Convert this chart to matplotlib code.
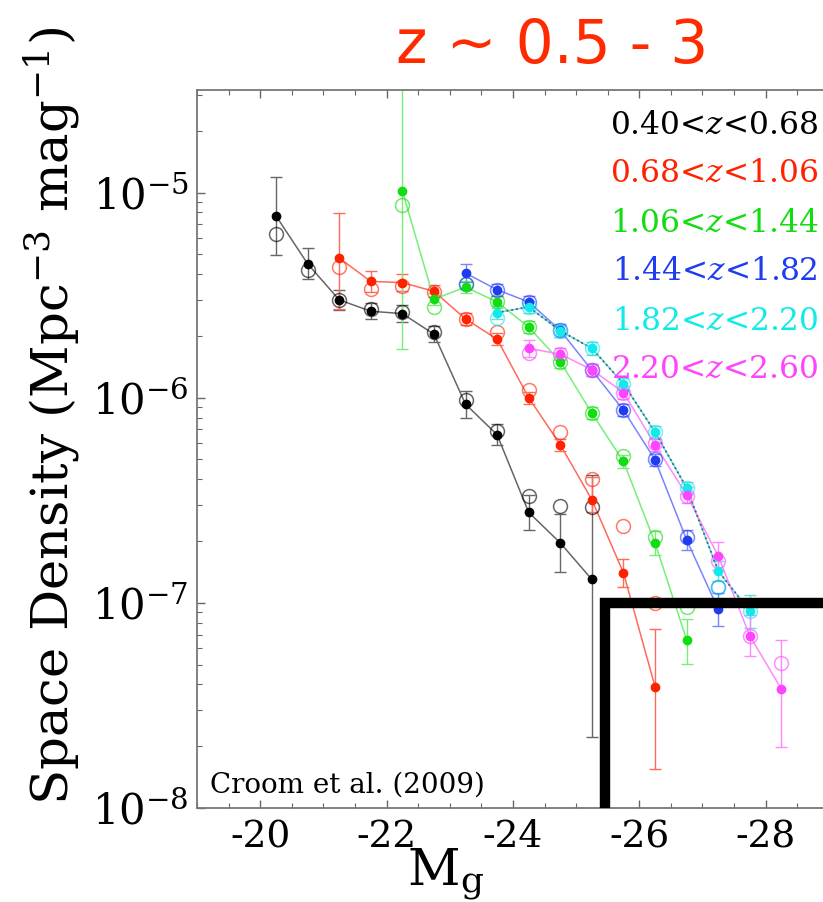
# Quasar luminosity function panel, z ~ 0.5 - 3 (Croom et al. 2009)
import numpy as np
import matplotlib
matplotlib.use("Agg")
import matplotlib.pyplot as plt
from matplotlib.ticker import FixedLocator, MultipleLocator, LogLocator, NullFormatter

plt.rcParams["font.family"] = "DejaVu Serif"
plt.rcParams["mathtext.fontset"] = "dejavuserif"

# ---- data (M_g bins, space density, errors in dex) ----
black_mag = [-20.25, -20.75, -21.25, -21.75, -22.25, -22.75, -23.25, -23.75, -24.25, -24.75, -25.25]
black_phi = [7.7e-6, 4.5e-6, 3.0e-6, 2.64e-6, 2.57e-6, 2.04e-6, 9.3e-7, 6.6e-7, 2.76e-7, 1.96e-7, 1.30e-7]
black_open = [6.3e-6, 4.2e-6, 3.0e-6, 2.7e-6, 2.62e-6, 2.1e-6, 9.8e-7, 6.9e-7, 3.3e-7, 2.95e-7, 2.93e-7]
black_dlo = [0.19, 0.075, 0.05, 0.04, 0.04, 0.04, 0.065, 0.05, 0.085, 0.14, 0.77]
black_dhi = [0.19, 0.075, 0.05, 0.04, 0.04, 0.04, 0.065, 0.05, 0.085, 0.14, 0.51]

red_mag = [-21.25, -21.75, -22.25, -22.75, -23.25, -23.75, -24.25, -24.75, -25.25, -25.75, -26.25]
red_phi = [4.8e-6, 3.69e-6, 3.64e-6, 3.30e-6, 2.42e-6, 1.93e-6, 1.0e-6, 5.9e-7, 3.18e-7, 1.40e-7, 3.9e-8]
red_open = [4.33e-6, 3.40e-6, 3.49e-6, 3.27e-6, 2.42e-6, 2.09e-6, 1.09e-6, 6.8e-7, 4.0e-7, 2.38e-7, 1.0e-7]
red_dlo = [0.25, 0.05, 0.04, 0.03, 0.03, 0.03, 0.03, 0.03, 0.06, 0.07, 0.40]
red_dhi = [0.22, 0.05, 0.04, 0.03, 0.03, 0.03, 0.03, 0.03, 0.11, 0.07, 0.28]

green_mag = [-22.25, -22.75, -23.25, -23.75, -24.25, -24.75, -25.25, -25.75, -26.25, -26.75]
green_phi = [1.02e-5, 3.02e-6, 3.46e-6, 2.93e-6, 2.21e-6, 1.50e-6, 8.4e-7, 4.89e-7, 1.96e-7, 6.6e-8]
green_open = [8.65e-6, 2.77e-6, 3.6e-6, 2.95e-6, 2.2e-6, 1.5e-6, 8.4e-7, 5.2e-7, 2.1e-7, 9.5e-8]
green_dlo = [0.77, 0.03, 0.03, 0.03, 0.03, 0.03, 0.03, 0.03, 0.06, 0.12]
green_dhi = [1.0, 0.03, 0.03, 0.03, 0.03, 0.03, 0.03, 0.03, 0.06, 0.10]

blue_mag = [-23.25, -23.75, -24.25, -24.75, -25.25, -25.75, -26.25, -26.75, -27.25]
blue_phi = [4.05e-6, 3.36e-6, 2.93e-6, 2.13e-6, 1.36e-6, 8.7e-7, 4.98e-7, 2.03e-7, 9.3e-8]
blue_open = [3.6e-6, 3.36e-6, 2.93e-6, 2.13e-6, 1.36e-6, 8.7e-7, 5.0e-7, 2.1e-7, 1.2e-7]
blue_dlo = [0.045, 0.03, 0.03, 0.03, 0.03, 0.03, 0.03, 0.05, 0.08]
blue_dhi = [0.045, 0.03, 0.03, 0.03, 0.03, 0.03, 0.03, 0.05, 0.08]

cyan_mag = [-23.75, -24.25, -24.75, -25.25, -25.75, -26.25, -26.75, -27.25, -27.75]
cyan_phi = [2.6e-6, 2.77e-6, 2.12e-6, 1.74e-6, 1.17e-6, 6.8e-7, 3.63e-7, 1.43e-7, 9.1e-8]
cyan_open = [2.45e-6, 2.77e-6, 2.12e-6, 1.74e-6, 1.17e-6, 6.8e-7, 3.63e-7, 1.2e-7, 9.1e-8]
cyan_dlo = [0.03, 0.03, 0.03, 0.03, 0.03, 0.03, 0.03, 0.05, 0.08]
cyan_dhi = [0.03, 0.03, 0.03, 0.03, 0.03, 0.03, 0.03, 0.05, 0.08]

magenta_mag = [-24.25, -24.75, -25.25, -25.75, -26.25, -26.75, -27.25, -27.75, -28.25]
magenta_phi = [1.74e-6, 1.63e-6, 1.37e-6, 1.06e-6, 5.9e-7, 3.36e-7, 1.69e-7, 6.9e-8, 3.8e-8]
magenta_open = [1.65e-6, 1.63e-6, 1.37e-6, 1.06e-6, 6.0e-7, 3.3e-7, 1.6e-7, 6.9e-8, 5.1e-8]
magenta_dlo = [0.04, 0.03, 0.03, 0.03, 0.03, 0.04, 0.07, 0.10, 0.28]
magenta_dhi = [0.04, 0.03, 0.03, 0.03, 0.03, 0.04, 0.07, 0.10, 0.24]

labels = ["0.40<$z$<0.68", "0.68<$z$<1.06", "1.06<$z$<1.44",
          "1.44<$z$<1.82", "1.82<$z$<2.20", "2.20<$z$<2.60"]
text_colors = ["black", "#ff2200", "#11dd11", "#1f3cf0", "#10eaea", "#ff44ff"]
line_colors = ["#666666", "#ff6a5a", "#77ee77", "#7b84ff", "#66dddd", "#ff88ff"]

xtick_vals = [-20, -22, -24, -26, -28]
ytick_vals = [1e-8, 1e-7, 1e-6, 1e-5]

# ---- figure ----
fig = plt.figure(figsize=(8.23, 9.02), dpi=100)
W, H = 823.0, 902.0
# axes runs past the right edge of the picture (cropped slide)
ax = fig.add_axes([197 / W, 1 - 808 / H, 695 / W, 718 / H])
ax.set_xlim(-19, -30)
ax.set_yscale("log")
ax.set_ylim(1e-8, 10 ** -4.5)

series = [
    (black_mag, black_phi, black_open, black_dlo, black_dhi),
    (red_mag, red_phi, red_open, red_dlo, red_dhi),
    (green_mag, green_phi, green_open, green_dlo, green_dhi),
    (blue_mag, blue_phi, blue_open, blue_dlo, blue_dhi),
    (cyan_mag, cyan_phi, cyan_open, cyan_dlo, cyan_dhi),
    (magenta_mag, magenta_phi, magenta_open, magenta_dlo, magenta_dhi),
]

for i, (m, phi, opn, dlo, dhi) in enumerate(series):
    m = np.array(m)
    phi = np.array(phi)
    lo = phi - phi * 10 ** (-np.array(dlo))
    hi = phi * 10 ** np.array(dhi) - phi
    ax.plot(m, phi, "-", color=line_colors[i], lw=1.1, zorder=2 + i * 0.01)
    if i == 4:
        # the cyan curve has a dotted dark line on top
        ax.plot(m, phi, ":", color="#336677", lw=1.3, zorder=2.5)
    ax.errorbar(m, phi, yerr=[lo, hi], fmt="none", ecolor=line_colors[i],
                elinewidth=1.0, capsize=4, capthick=1.0, zorder=2)
    ax.plot(m, opn, "o", mfc="none", mec=text_colors[i], mew=1.1, ms=10,
            alpha=0.6, zorder=3)
    ax.plot(m, phi, "o", color=text_colors[i], ms=6, zorder=4)

# thick black L-shaped marker drawn over the slide
ax.plot([-25.46, -25.46, -31], [1e-8, 1.0e-7, 1.0e-7], color="black", lw=7.5,
        solid_capstyle="butt", solid_joinstyle="miter", zorder=6, clip_on=False)

# axes styling
for s in ax.spines.values():
    s.set_color("#777777")
    s.set_linewidth(1.3)
ax.xaxis.set_major_locator(FixedLocator(xtick_vals))
ax.xaxis.set_minor_locator(MultipleLocator(0.5))
ax.set_xticklabels([str(v) for v in xtick_vals])
ax.set_yticks(ytick_vals)
ax.set_yticklabels([r"10$^{%d}$" % int(np.log10(v)) for v in ytick_vals])
ax.yaxis.set_minor_locator(LogLocator(base=10, subs=np.arange(2, 10)))
ax.yaxis.set_minor_formatter(NullFormatter())
ax.tick_params(which="both", direction="in", top=True, right=True, color="#666666")
ax.tick_params(which="major", length=6, width=1)
ax.tick_params(which="minor", length=3.5, width=0.8)
ax.tick_params(axis="x", labelsize=27, pad=8)
ax.tick_params(axis="y", labelsize=30, pad=6)

# overlay texts
fig.text(552 / W, 1 - 47 / H, "z ~ 0.5 - 3", color="#ff2a00", fontsize=43,
         family="DejaVu Sans", ha="center", va="center")
for k, (lab, c) in enumerate(zip(labels, text_colors)):
    fig.text(818 / W, 1 - (125 + 49 * k) / H, lab, color=c, fontsize=22.5,
             ha="right", va="center")
fig.text(210 / W, 1 - 785 / H, "Croom et al. (2009)", fontsize=20,
         ha="left", va="center")
fig.text(52 / W, 1 - 805 / H, r"Space Density (Mpc$^{-3}$ mag$^{-1}$)",
         rotation=90, ha="center", va="bottom", fontsize=37)
fig.text(445 / W, 1 - 885 / H, r"M$_\mathrm{g}$", fontsize=37,
         ha="center", va="baseline")

plt.savefig("out.png", dpi=100)
